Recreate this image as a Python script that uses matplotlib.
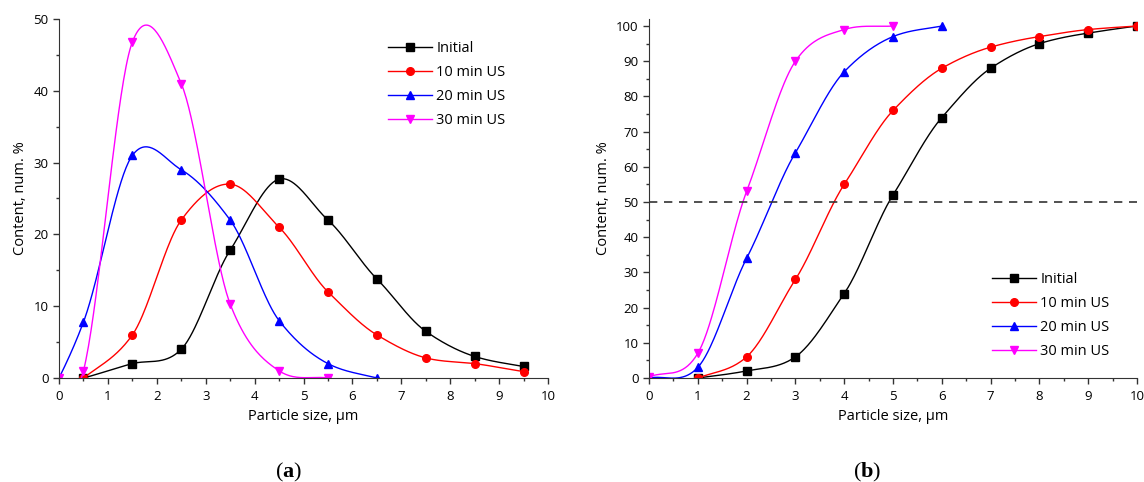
import numpy as np
import matplotlib
matplotlib.use('Agg')
import matplotlib.pyplot as plt
from matplotlib.ticker import MultipleLocator

plt.rcParams['font.family'] = ['Open Sans', 'DejaVu Sans']
plt.rcParams['mathtext.fontset'] = 'custom'
plt.rcParams['mathtext.bf'] = 'Liberation Serif:bold'

labels = ['Initial', '10 min US', '20 min US', '30 min US']
colors = ['black', '#ff0000', '#0000ff', '#ff00ff']
markers = ['s', 'o', '^', 'v']

# (a) differential distribution
a_x = [
    [0.5, 1.5, 2.5, 3.5, 4.5, 5.5, 6.5, 7.5, 8.5, 9.5],
    [0.5, 1.5, 2.5, 3.5, 4.5, 5.5, 6.5, 7.5, 8.5, 9.5],
    [0, 0.5, 1.5, 2.5, 3.5, 4.5, 5.5, 6.5],
    [0, 0.5, 1.5, 2.5, 3.5, 4.5, 5.5],
]
a_y = [
    [0, 2, 4, 17.8, 27.7, 22, 13.8, 6.5, 3, 1.6],
    [0, 6, 22, 27, 21, 12, 6, 2.8, 2, 0.9],
    [0, 7.8, 31, 29, 22, 8, 2, 0],
    [0, 1, 46.8, 41, 10.3, 1, 0],
]

# (b) cumulative distribution
b_x = [
    [1, 2, 3, 4, 5, 6, 7, 8, 9, 10],
    [1, 2, 3, 4, 5, 6, 7, 8, 9, 10],
    [0, 1, 2, 3, 4, 5, 6],
    [0, 1, 2, 3, 4, 5],
]
b_y = [
    [0, 2, 6, 24, 52, 74, 88, 95, 98, 100],
    [0, 6, 28, 55, 76, 88, 94, 97, 99, 100],
    [0, 3, 34, 64, 87, 97, 100],
    [0.3, 7, 53, 90, 99, 100],
]


def smooth(x, y, c=0.88, n=40):
    # cardinal (Catmull-Rom like) curve through the points
    x = np.asarray(x, float)
    y = np.asarray(y, float)
    d = np.empty(len(x))
    d[1:-1] = (y[2:] - y[:-2]) / (x[2:] - x[:-2])
    d[0] = (y[1] - y[0]) / (x[1] - x[0])
    d[-1] = (y[-1] - y[-2]) / (x[-1] - x[-2])
    d *= c
    xs, ys = [], []
    for k in range(len(x) - 1):
        h = x[k + 1] - x[k]
        s = np.linspace(0, 1, n)
        xs.append(x[k] + s * h)
        ys.append((1 - 3 * s**2 + 2 * s**3) * y[k] + (s - 2 * s**2 + s**3) * h * d[k]
                  + (3 * s**2 - 2 * s**3) * y[k + 1] + (s**3 - s**2) * h * d[k + 1])
    return np.concatenate(xs), np.concatenate(ys)


fig = plt.figure(figsize=(11.44, 4.82), dpi=100)
ax1 = fig.add_axes([0.0516, 0.2158, 0.4274, 0.7448])
ax2 = fig.add_axes([0.5673, 0.2158, 0.4266, 0.7448])

for ax, xs, ys in [(ax1, a_x, a_y), (ax2, b_x, b_y)]:
    for x, y, c, mk, lb in zip(xs, ys, colors, markers, labels):
        sx, sy = smooth(x, y)
        ax.plot(sx, sy, color=c, lw=1)
        ax.plot(x, y, ls='none', marker=mk, color=c, ms=5.5)
        ax.plot([], [], color=c, lw=1, marker=mk, ms=5.5, label=lb)

ax2.axhline(50, color='#333333', lw=1.2, ls=(0, (5, 4)))

ax1.set_xlim(0, 10)
ax1.set_ylim(0, 50)
ax1.yaxis.set_major_locator(MultipleLocator(10))
ax1.yaxis.set_minor_locator(MultipleLocator(5))
ax2.set_xlim(0, 10)
ax2.set_ylim(0, 102)
ax2.yaxis.set_major_locator(MultipleLocator(10))
ax2.yaxis.set_minor_locator(MultipleLocator(5))

for ax in (ax1, ax2):
    ax.xaxis.set_major_locator(MultipleLocator(1))
    ax.xaxis.set_minor_locator(MultipleLocator(0.5))
    ax.spines['top'].set_visible(False)
    ax.spines['right'].set_visible(False)
    ax.spines['left'].set_color('#333333')
    ax.spines['bottom'].set_color('#333333')
    ax.tick_params(which='major', length=4, width=1, labelsize=9.5, color='#333333')
    ax.tick_params(axis='x', which='major', pad=5)
    ax.tick_params(which='minor', length=2.5, width=1, color='#333333')
    ax.set_xlabel('Particle size, µm', fontsize=10.5, labelpad=4)
    ax.set_ylabel('Content, num. %', fontsize=10.5, labelpad=4)

ax1.legend(loc='upper left', bbox_to_anchor=(0.658, 0.96), frameon=False, fontsize=10.5,
           handlelength=3.0, handletextpad=0.3, labelspacing=0.62, borderpad=0)
ax2.legend(loc='lower left', bbox_to_anchor=(0.688, 0.033), frameon=False, fontsize=10.5,
           handlelength=3.0, handletextpad=0.3, labelspacing=0.62, borderpad=0)

fig.text(0.252, 0.01, r'($\mathbf{a}$)', fontsize=16, family='Liberation Serif', ha='center')
fig.text(0.758, 0.01, r'($\mathbf{b}$)', fontsize=16, family='Liberation Serif', ha='center')

fig.savefig('out.png', dpi=100)
